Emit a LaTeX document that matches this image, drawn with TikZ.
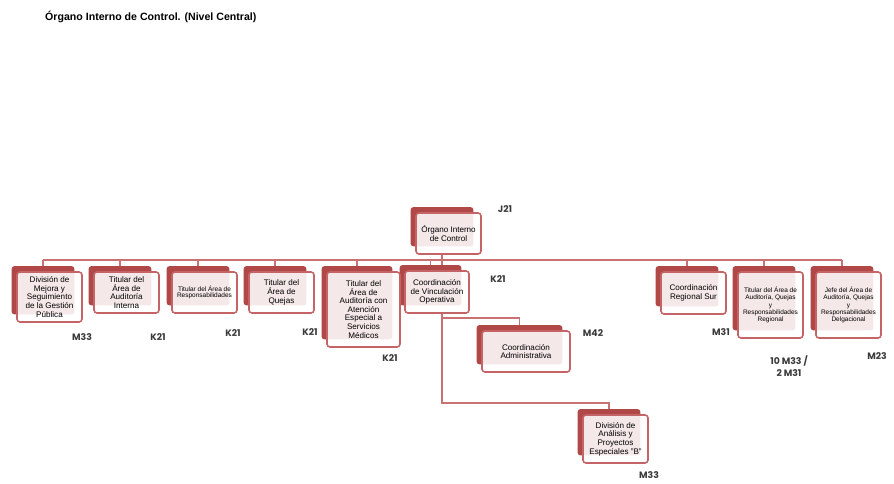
\documentclass[tikz,border=0pt]{standalone}
\usepackage{fontspec}
\setmainfont{Liberation Sans}
\newfontfamily\lblfont{Poppins}
\usetikzlibrary{calc,backgrounds}
\definecolor{backred}{HTML}{B04848}
\definecolor{framered}{HTML}{C46466}
\definecolor{linered}{HTML}{C87274}
\definecolor{lblgray}{HTML}{3A3A3A}
\tikzset{
  frontbox/.style={draw=framered, line width=1.6pt, rounded corners=3pt, fill=white, fill opacity=0.88, text opacity=1, inner sep=0pt, align=center, font=\fontsize{8.1}{8.6}\selectfont},
  smalltxt/.style={font=\fontsize{6.5}{6.6}\selectfont},
  regtxt/.style={font=\fontsize{6.5}{7.2}\selectfont},
  conn/.style={draw=linered, line width=1.6pt},
  lbl/.style={font=\lblfont\bfseries\fontsize{9.3}{10}\selectfont, text=lblgray, inner sep=0pt, align=center},
  title/.style={font=\bfseries\fontsize{10.6}{12}\selectfont, inner sep=0pt, anchor=west}
}
% name, cx, cy, w, h, options, text
\newcommand\orgbox[7]{%
  \node[frontbox, minimum width=#4pt, minimum height=#5pt, #6] (#1) at (#2,#3) {#7};
  \begin{pgfonlayer}{background}
    \fill[backred, rounded corners=2.5pt] ($(#1.north west)+(-4.5,-5)$) coordinate (#1-bnw) rectangle ($(#1.south east)+(-8.5,-8.5)$) coordinate (#1-bse);
  \end{pgfonlayer}
  \path ($(#1-bnw)!0.5!(#1-bse|-#1-bnw)$) coordinate (#1-top);
}
\newcommand\bustick[1]{\draw[conn] (#1-top) -- (#1-top |- busL);}
\begin{document}
\begin{tikzpicture}[x=1pt,y=-1pt]
\useasboundingbox (0,0) rectangle (894,484);
\node[title] (ttl) at (45,17) {Órgano Interno de Control. (Nivel Central)};

\orgbox{root}{448.5}{233.5}{65}{41}{}{Órgano Interno\\de Control}
\orgbox{divmej}{49.5}{297}{65}{50}{}{División de\\Mejora y\\Seguimiento\\de la Gestión\\Pública}
\orgbox{audint}{126.5}{292.5}{65}{41}{}{Titular del\\Área de\\Auditoría\\Interna}
\orgbox{resp}{204.5}{292.5}{65}{41}{smalltxt}{Titular del Área de\\Responsabilidades}
\orgbox{quejas}{281.5}{292.5}{65}{41}{}{Titular del\\Área de\\Quejas}
\orgbox{medicos}{363.5}{309.5}{73}{75}{}{Titular del\\Área de\\Auditoría con\\Atención\\Especial a\\Servicios\\Médicos}
\orgbox{vinc}{437}{292}{64}{42}{}{Coordinación\\de Vinculación\\Operativa}
\orgbox{admin}{526}{351.5}{88}{41}{}{Coordinación\\Administrativa}
\orgbox{analisis}{615.5}{439}{65}{48}{}{División de\\Análisis y\\Proyectos\\Especiales "B"}
\orgbox{regsur}{693.5}{293}{65}{42}{}{Coordinación\\Regional Sur}
\orgbox{titreg}{770.5}{305}{65}{66}{regtxt}{Titular del Área de\\Auditoría, Quejas\\y\\Responsabilidades\\Regional}
\orgbox{jefedel}{848.5}{305}{65}{66}{regtxt}{Jefe del Área de\\Auditoría, Quejas\\y\\Responsabilidades\\Delgacional}

% bus
\coordinate (busL) at (divmej-top |- 0,260);
\coordinate (busR) at (jefedel-top |- 0,260);
\draw[conn] (busL) -- (busR);
\draw[conn] (root-top |- root.south) -- (root-top |- vinc-top);
\foreach \n in {divmej,audint,resp,quejas,medicos,vinc,regsur,titreg,jefedel} {\bustick{\n}}

% vinculacion subtree
\coordinate (vx) at (root-top |- vinc.south);
\draw[conn] (vx) -- (vx |- 0,403) -| (analisis-top);
\draw[conn] (vx |- 0,318) -| (admin-top);

% labels
\node[lbl] (l1) at (82,337) {M33};
\node[lbl] (l2) at (158,337) {K21};
\node[lbl] (l3) at (233,333) {K21};
\node[lbl] (l4) at (310,332) {K21};
\node[lbl] (l5) at (390,358) {K21};
\node[lbl] (l6) at (498,279) {K21};
\node[lbl] (l7) at (505,209) {J21};
\node[lbl] (l8) at (593,333) {M42};
\node[lbl] (l9) at (721,332) {M31};
\node[lbl, font=\lblfont\bfseries\fontsize{9.3}{12.5}\selectfont] (l10) at (789,366) {10 M33 /\\2 M31};
\node[lbl] (l11) at (877,356) {M23};
\node[lbl] (l12) at (649,475) {M33};
\end{tikzpicture}
\end{document}
